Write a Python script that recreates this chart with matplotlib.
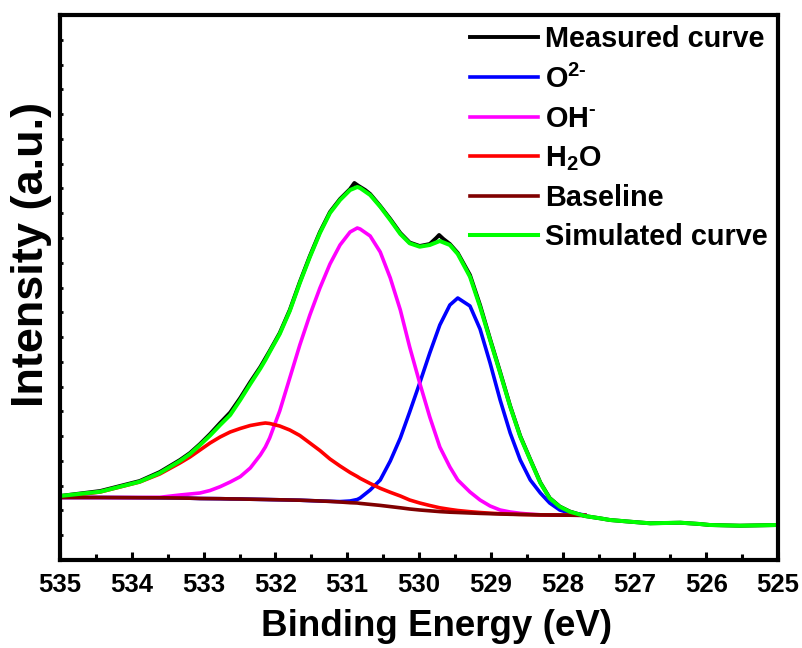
import matplotlib
matplotlib.use("Agg")
import matplotlib.pyplot as plt
import numpy as np
from matplotlib.ticker import MultipleLocator, FixedLocator, NullFormatter

plt.rcParams['font.family'] = ['Liberation Sans', 'DejaVu Sans']
plt.rcParams['font.weight'] = 'bold'
plt.rcParams['mathtext.fontset'] = 'custom'
plt.rcParams['mathtext.rm'] = 'Liberation Sans:bold'
plt.rcParams['mathtext.it'] = 'Liberation Sans:bold'
plt.rcParams['mathtext.bf'] = 'Liberation Sans:bold'
plt.rcParams['mathtext.default'] = 'bf'

# ---- data (binding energy in eV, intensity in arbitrary units) ----
energy_fit = [535.00, 534.44, 533.89, 533.61, 533.33, 533.19, 533.05, 532.91, 532.77, 532.63,
              532.49, 532.35, 532.21, 532.14, 532.08, 531.94, 531.80, 531.66, 531.52, 531.38,
              531.24, 531.10, 530.96, 530.86, 530.82, 530.68, 530.54, 530.40, 530.26, 530.13,
              529.99, 529.85, 529.71, 529.57, 529.46, 529.29, 529.15, 529.01, 528.87, 528.73,
              528.59, 528.45, 528.31, 528.18, 528.04, 527.90, 527.69]

baseline = [62.5, 62.5, 62.3, 62.2, 62.0, 61.8, 61.5, 61.4, 61.3, 61.1,
            61.0, 60.8, 60.6, 60.5, 60.4, 60.2, 60.0, 59.8, 59.4, 59.0,
            58.6, 58.0, 57.3, 57.0, 56.6, 55.6, 54.6, 53.4, 52.2, 51.0,
            50.0, 49.2, 48.4, 47.8, 47.5, 47.0, 46.6, 46.3, 46.0, 45.7,
            45.5, 45.3, 45.1, 45.0, 44.9, 44.8, 44.6]

o2_minus = [62.5, 62.5, 62.3, 62.2, 62.0, 61.8, 61.5, 61.4, 61.3, 61.1,
            61.0, 60.8, 60.6, 60.5, 60.4, 60.2, 60.0, 59.8, 59.4, 59.0,
            58.7, 58.4, 59.0, 60.5, 62.0, 70.0, 80.0, 99.0, 122.0, 148.0,
            177.0, 207.0, 235.0, 255.0, 262.0, 254.0, 231.0, 197.0, 160.0, 127.0,
            100.0, 80.0, 67.0, 57.0, 50.0, 47.0, 45.0]

oh_minus = [62.5, 62.5, 62.5, 62.7, 65.0, 66.0, 67.0, 69.5, 73.3, 78.0,
            83.3, 92.0, 105.0, 113.0, 122.0, 149.0, 182.0, 215.0, 245.0, 272.0,
            296.0, 315.0, 328.0, 332.0, 331.0, 324.0, 308.0, 282.0, 250.0, 213.0,
            177.0, 143.0, 113.0, 93.0, 80.0, 68.0, 60.0, 54.0, 50.0, 48.0,
            46.7, 45.8, 45.2, 45.0, 44.9, 44.8, 44.6]

h2o = [63.0, 68.0, 78.0, 86.0, 97.0, 103.0, 110.0, 117.0, 123.0, 128.0,
       131.5, 134.5, 136.3, 137.0, 136.5, 134.0, 130.0, 124.5, 117.0, 109.5,
       101.0, 94.0, 87.5, 83.5, 81.7, 76.5, 71.7, 67.7, 64.0, 60.0,
       57.0, 54.5, 52.2, 50.6, 49.5, 48.3, 47.5, 46.8, 46.3, 45.9,
       45.6, 45.4, 45.2, 45.1, 45.0, 44.9, 44.7]

energy_sim = energy_fit + [527.48, 527.34, 527.06, 526.78, 526.36, 526.09, 525.95, 525.53, 525.00]
simulated = [64.0, 68.3, 78.3, 87.0, 99.0, 106.0, 115.0, 124.5, 135.0, 145.0,
             160.0, 176.0, 191.5, 200.0, 208.0, 226.0, 249.0, 277.0, 303.0, 327.0,
             347.0, 360.0, 370.0, 373.0, 372.0, 365.0, 353.3, 340.0, 326.0, 316.7,
             313.3, 315.0, 319.0, 315.0, 306.0, 283.3, 253.3, 220.0, 187.0, 153.3,
             123.3, 100.0, 77.0, 61.7, 53.3, 48.3, 44.0,
             41.7, 40.0, 38.3, 36.7, 37.3, 36.0, 35.0, 34.3, 35.0]

energy_meas = [535.00, 534.44, 533.89, 533.61, 533.33, 533.19, 533.05, 532.91, 532.77, 532.63,
               532.49, 532.35, 532.21, 532.08, 531.94, 531.80, 531.66, 531.52, 531.38, 531.24,
               531.10, 530.96, 530.90, 530.84, 530.75, 530.68, 530.54, 530.40, 530.26, 530.13,
               529.99, 529.85, 529.76, 529.72, 529.66, 529.57, 529.46, 529.29, 529.15, 529.01,
               528.87, 528.73, 528.59, 528.45, 528.31, 528.18, 528.04, 527.90, 527.69, 527.48,
               527.34, 527.06, 526.78, 526.36, 526.09, 525.95, 525.53, 525.00]
measured = [64.0, 69.0, 79.0, 88.0, 100.0, 107.0, 116.0, 126.0, 137.0, 147.5,
            162.0, 178.0, 193.0, 209.0, 227.0, 250.0, 278.0, 304.0, 328.0, 348.0,
            361.0, 371.0, 377.0, 374.0, 370.0, 366.0, 354.0, 341.0, 327.0, 317.5,
            314.0, 316.0, 322.0, 325.0, 321.0, 316.0, 307.0, 285.0, 255.0, 221.0,
            188.0, 154.0, 124.0, 100.5, 77.5, 62.0, 53.5, 48.5, 44.0, 41.7,
            40.0, 38.3, 36.7, 37.3, 36.0, 35.0, 34.3, 35.0]

labels = ['Measured curve', 'O$^{2\u2010}$', 'OH$^{\u2010}$', 'H$_{2}$O', 'Baseline', 'Simulated curve']
colors = ['#000000', '#0000FF', '#FF00FF', '#FF0000', '#800000', '#00FF00']

fig = plt.figure(figsize=(8.02, 6.48), dpi=100)
ax = fig.add_axes([60/802, 1-560/648, 718/802, 545/648])

ax.plot(energy_meas, measured, color=colors[0], lw=2.8, label=labels[0])
ax.plot(energy_fit, o2_minus, color=colors[1], lw=2.6, label=labels[1])
ax.plot(energy_fit, oh_minus, color=colors[2], lw=2.6, label=labels[2])
ax.plot(energy_fit, h2o, color=colors[3], lw=2.6, label=labels[3])
ax.plot(energy_fit, baseline, color=colors[4], lw=2.6, label=labels[4])
ax.plot(energy_sim, simulated, color=colors[5], lw=2.9, label=labels[5])

ax.set_xlim(535, 525)
ax.set_ylim(0, 545)

ax.xaxis.set_major_locator(MultipleLocator(1))
ax.xaxis.set_minor_locator(MultipleLocator(0.5))
ax.yaxis.set_major_locator(FixedLocator(np.linspace(0, 545, 23)))
ax.yaxis.set_major_formatter(NullFormatter())

ax.tick_params(axis='x', which='major', direction='in', length=6, width=2.2,
               labelsize=18.5, pad=9, top=False)
ax.tick_params(axis='x', which='minor', direction='in', length=4, width=2.2, top=False)
ax.tick_params(axis='y', which='major', direction='in', length=2.5, width=2,
               right=False, left=True)
for lab in ax.get_xticklabels():
    lab.set_fontweight('bold')

for s in ax.spines.values():
    s.set_linewidth(3)

ax.set_xlabel('Binding Energy (eV)', fontsize=26.5, fontweight='bold')
ax.xaxis.set_label_coords(0.524, -0.09)
ax.set_ylabel('Intensity (a.u.)', fontsize=32.5, fontweight='bold')
ax.yaxis.set_label_coords(-0.011, 0.561)

leg = ax.legend(loc='upper right', frameon=False, fontsize=20.8, handlelength=2.35,
                handletextpad=0.24, labelspacing=0.39, borderaxespad=0.2,
                borderpad=0.15)

fig.savefig('out.png', dpi=100)
